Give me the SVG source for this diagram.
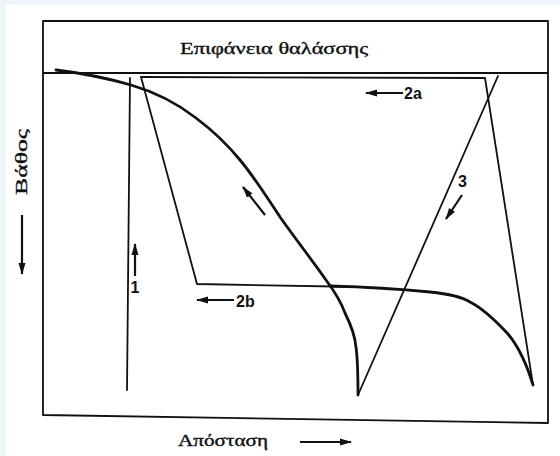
<svg xmlns="http://www.w3.org/2000/svg" width="560" height="456" viewBox="0 0 560 456">
<style>
.ln{fill:none;stroke:#111;stroke-width:1.8;stroke-linecap:round;stroke-linejoin:round}
.thick{fill:none;stroke:#111;stroke-width:2.8;stroke-linecap:round}
.ar{fill:none;stroke:#111;stroke-width:2.2}
.serif{font-family:"Liberation Serif","DejaVu Serif",serif;fill:#111;stroke:#111;stroke-width:0.35}
.lab{font-family:"Liberation Sans Narrow","Liberation Sans",sans-serif;font-weight:bold;fill:#111;font-size:16px}
</style>
<defs>
<marker id="ah" viewBox="0 0 12 8" refX="11" refY="4" markerWidth="12" markerHeight="8" markerUnits="userSpaceOnUse" orient="auto">
<path d="M0,0.5 L12,4 L0,7.5 Z" fill="#111"/>
</marker>
</defs>
<rect x="0" y="0" width="560" height="456" fill="#ffffff"/>
<rect x="0" y="0" width="560" height="5" fill="#eef5f8"/>
<rect x="0" y="0" width="6" height="456" fill="#eef5f8"/>
<g id="frame">
<path class="ln" d="M43,21 L548,21 L548,423 L43,415 Z"/>
<line class="ln" x1="43" y1="73" x2="548" y2="73" stroke-width="2.2"/>
</g>
<g id="surface-label"><text class="serif" x="274" y="54" font-size="16" text-anchor="middle" textLength="188" lengthAdjust="spacingAndGlyphs">Επιφάνεια θαλάσσης</text></g>
<g id="axis-y">
<text class="serif" transform="translate(27,162) rotate(-90)" font-size="17" text-anchor="middle" textLength="66" lengthAdjust="spacingAndGlyphs">Βάθος</text>
</g>
<g id="axis-x">
<text class="serif" x="223" y="446" font-size="16" text-anchor="middle" textLength="90" lengthAdjust="spacingAndGlyphs">Απόσταση</text>
</g>
<g id="connectors">
<line class="ar" x1="22" y1="215" x2="22" y2="274" stroke-width="1.5" marker-end="url(#ah)"/>
<line class="ar" x1="300" y1="442" x2="351" y2="442" marker-end="url(#ah)"/>
<line class="ar" x1="135" y1="276" x2="135" y2="244" marker-end="url(#ah)"/>
<line class="ar" x1="403" y1="93" x2="366" y2="93" marker-end="url(#ah)"/>
<line class="ar" x1="234" y1="300" x2="197" y2="300" marker-end="url(#ah)"/>
<line class="ar" x1="462" y1="195" x2="446" y2="219" marker-end="url(#ah)"/>
<line class="ar" x1="265" y1="215" x2="243" y2="187" marker-end="url(#ah)"/>
</g>
<g id="path1"><path class="ln" d="M130,78 L127,390"/></g>
<g id="path2">
<path class="ln" d="M141,77 L485,78 L533,385"/>
<path class="ln" d="M141,77 L197,284 L362,287"/>
<path class="thick" d="M330,286 C370,287 400,289 430,292 C450,294 462,297 470,302 C482,308 495,320 508,334 C518,346 526,362 533,385"/>
</g>
<g id="curve1"><path class="thick" d="M56,70 C90,74 110,79 131,85 C155,92 178,104 196,118 C212,130 227,144 240,160 C255,178 268,199 280,217 C297,241 312,260 326,280 C335,292 341,302 345,313 C351,325 355,336 356,347 C358,362 358,380 358,395"/></g>
<g id="path3"><path class="ln" d="M358,395 L498,76"/></g>
<g id="labels">
<text class="lab" x="135" y="293" text-anchor="middle">1</text>
<text class="lab" x="404" y="99">2a</text>
<text class="lab" x="236" y="307">2b</text>
<text class="lab" x="458" y="187">3</text>
</g>
</svg>
